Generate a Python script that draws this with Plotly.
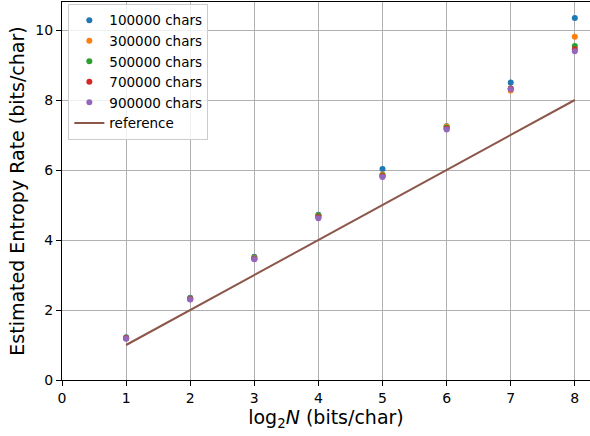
import plotly.graph_objects as go

x_vals = [1, 2, 3, 4, 5, 6, 7, 8]
series_names = ["100000 chars", "300000 chars", "500000 chars", "700000 chars", "900000 chars"]
s100k = [1.22, 2.35, 3.52, 4.72, 6.03, 7.25, 8.50, 10.34]
s300k = [1.20, 2.33, 3.49, 4.70, 5.87, 7.24, 8.27, 9.81]
s500k = [1.19, 2.32, 3.48, 4.69, 5.84, 7.21, 8.33, 9.54]
s700k = [1.19, 2.31, 3.46, 4.65, 5.82, 7.18, 8.33, 9.45]
s900k = [1.18, 2.30, 3.45, 4.62, 5.80, 7.16, 8.31, 9.39]
reference_y = [1, 2, 3, 4, 5, 6, 7, 8]
x_ticks = [0, 1, 2, 3, 4, 5, 6, 7, 8]
y_ticks = [0, 2, 4, 6, 8, 10]

colors = ["#1f77b4", "#ff7f0e", "#2ca02c", "#d62728", "#9467bd"]
ref_color = "#8c564b"

fig = go.Figure()
for name, ys, c in zip(series_names, [s100k, s300k, s500k, s700k, s900k], colors):
    fig.add_trace(go.Scatter(x=x_vals, y=ys, mode="markers", name=name,
                             marker=dict(color=c, size=6, line=dict(width=0))))
fig.add_trace(go.Scatter(x=x_vals, y=reference_y, mode="lines", name="reference",
                         line=dict(color=ref_color, width=2)))

font = "DejaVu Sans"
fig.update_layout(
    width=590, height=436,
    margin=dict(l=62, r=0, t=2, b=56),
    plot_bgcolor="white", paper_bgcolor="white",
    font=dict(family=font, size=14, color="black"),
    legend=dict(x=0.012, y=0.995, xanchor="left", yanchor="top",
                bgcolor="rgba(255,255,255,0.8)", bordercolor="#cccccc", borderwidth=1,
                font=dict(size=13.5), tracegroupgap=0, itemwidth=30),
    xaxis=dict(range=[0, 8.237], tickvals=x_ticks, showgrid=True, gridcolor="#b0b0b0",
               gridwidth=1, zeroline=False, showline=True, linecolor="black", linewidth=1,
               mirror=True, ticks="outside", ticklen=5, tickcolor="black",
               title=dict(text="log<sub>2</sub><i>N</i> (bits/char)", font=dict(size=19), standoff=3)),
    yaxis=dict(range=[0, 10.8], tickvals=y_ticks, showgrid=True, gridcolor="#b0b0b0",
               gridwidth=1, zeroline=False, showline=True, linecolor="black", linewidth=1,
               ticks="outside", ticklen=5, tickcolor="black",
               title=dict(text="Estimated Entropy Rate (bits/char)", font=dict(size=19), standoff=5)),
)
fig.write_html("out.html")
